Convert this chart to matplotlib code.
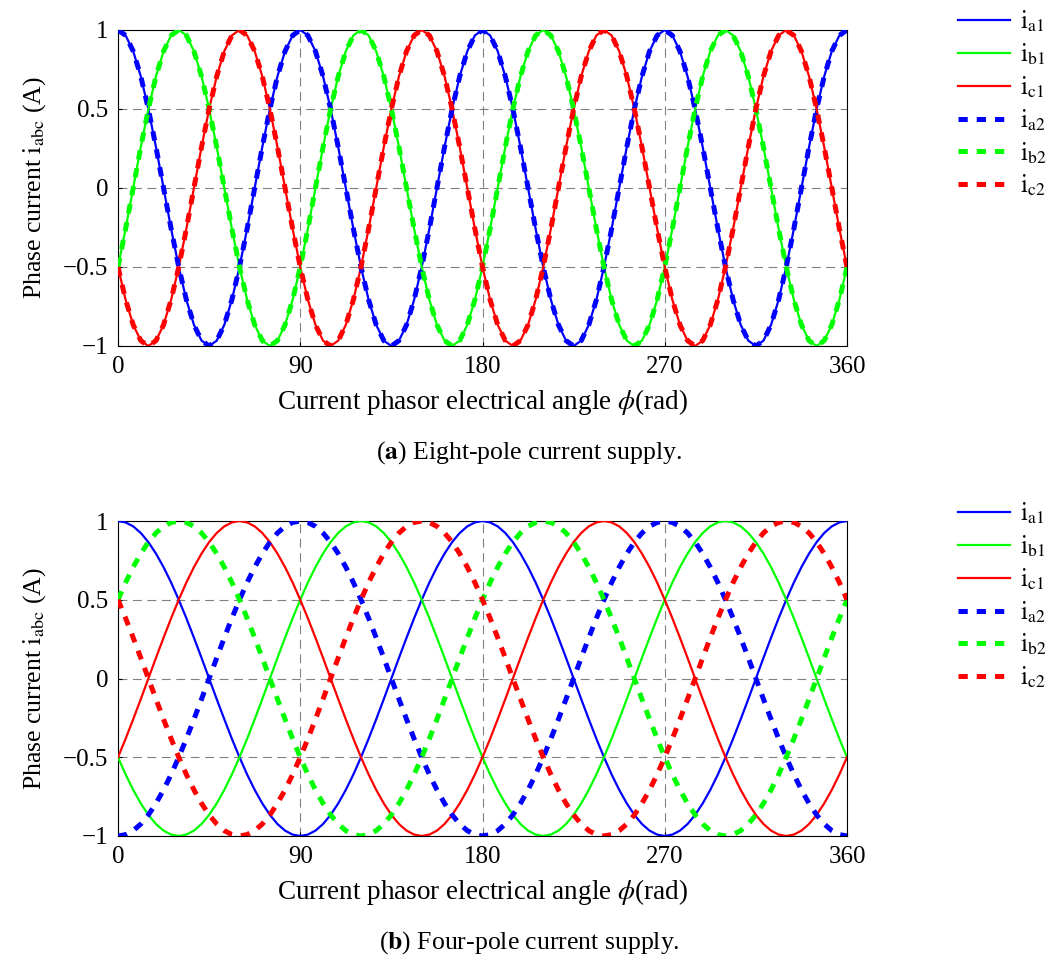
import numpy as np
import matplotlib
matplotlib.use("Agg")
import matplotlib.pyplot as plt

plt.rcParams["font.family"] = "serif"
plt.rcParams["font.serif"] = ["Liberation Serif", "DejaVu Serif"]
plt.rcParams["mathtext.fontset"] = "stix"


ANGLE_TICKS = [0, 90, 180, 270, 360]
CURRENT_TICKS = [-1, -0.5, 0, 0.5, 1]
CURRENT_TICK_LABELS = ["\u22121", "\u22120.5", "0", "0.5", "1"]

# sample angles (deg), one reading every 3.75 deg
angles_a = np.linspace(0, 360, 97)
angles_b = np.linspace(0, 360, 97)

# (a) eight-pole supply
ia1_a = [1, 0.966, 0.866, 0.707, 0.5, 0.259, 0, -0.259, -0.5, -0.707, -0.866, -0.966,
         -1, -0.966, -0.866, -0.707, -0.5, -0.259, 0, 0.259, 0.5, 0.707, 0.866, 0.966,
         1, 0.966, 0.866, 0.707, 0.5, 0.259, 0, -0.259, -0.5, -0.707, -0.866, -0.966,
         -1, -0.966, -0.866, -0.707, -0.5, -0.259, 0, 0.259, 0.5, 0.707, 0.866, 0.966,
         1, 0.966, 0.866, 0.707, 0.5, 0.259, 0, -0.259, -0.5, -0.707, -0.866, -0.966,
         -1, -0.966, -0.866, -0.707, -0.5, -0.259, 0, 0.259, 0.5, 0.707, 0.866, 0.966,
         1, 0.966, 0.866, 0.707, 0.5, 0.259, 0, -0.259, -0.5, -0.707, -0.866, -0.966,
         -1, -0.966, -0.866, -0.707, -0.5, -0.259, 0, 0.259, 0.5, 0.707, 0.866, 0.966,
         1]
ib1_a = [-0.5, -0.259, 0, 0.259, 0.5, 0.707, 0.866, 0.966, 1, 0.966, 0.866, 0.707,
         0.5, 0.259, 0, -0.259, -0.5, -0.707, -0.866, -0.966, -1, -0.966, -0.866, -0.707,
         -0.5, -0.259, 0, 0.259, 0.5, 0.707, 0.866, 0.966, 1, 0.966, 0.866, 0.707,
         0.5, 0.259, 0, -0.259, -0.5, -0.707, -0.866, -0.966, -1, -0.966, -0.866, -0.707,
         -0.5, -0.259, 0, 0.259, 0.5, 0.707, 0.866, 0.966, 1, 0.966, 0.866, 0.707,
         0.5, 0.259, 0, -0.259, -0.5, -0.707, -0.866, -0.966, -1, -0.966, -0.866, -0.707,
         -0.5, -0.259, 0, 0.259, 0.5, 0.707, 0.866, 0.966, 1, 0.966, 0.866, 0.707,
         0.5, 0.259, 0, -0.259, -0.5, -0.707, -0.866, -0.966, -1, -0.966, -0.866, -0.707,
         -0.5]
ic1_a = [-0.5, -0.707, -0.866, -0.966, -1, -0.966, -0.866, -0.707, -0.5, -0.259, 0, 0.259,
         0.5, 0.707, 0.866, 0.966, 1, 0.966, 0.866, 0.707, 0.5, 0.259, 0, -0.259,
         -0.5, -0.707, -0.866, -0.966, -1, -0.966, -0.866, -0.707, -0.5, -0.259, 0, 0.259,
         0.5, 0.707, 0.866, 0.966, 1, 0.966, 0.866, 0.707, 0.5, 0.259, 0, -0.259,
         -0.5, -0.707, -0.866, -0.966, -1, -0.966, -0.866, -0.707, -0.5, -0.259, 0, 0.259,
         0.5, 0.707, 0.866, 0.966, 1, 0.966, 0.866, 0.707, 0.5, 0.259, 0, -0.259,
         -0.5, -0.707, -0.866, -0.966, -1, -0.966, -0.866, -0.707, -0.5, -0.259, 0, 0.259,
         0.5, 0.707, 0.866, 0.966, 1, 0.966, 0.866, 0.707, 0.5, 0.259, 0, -0.259,
         -0.5]
# second winding set sits on top of the first one in (a)
ia2_a = ia1_a
ib2_a = ib1_a
ic2_a = ic1_a

# (b) four-pole supply
ia1_b = [1, 0.991, 0.966, 0.924, 0.866, 0.793, 0.707, 0.609, 0.5, 0.383, 0.259, 0.131,
         0, -0.131, -0.259, -0.383, -0.5, -0.609, -0.707, -0.793, -0.866, -0.924, -0.966, -0.991,
         -1, -0.991, -0.966, -0.924, -0.866, -0.793, -0.707, -0.609, -0.5, -0.383, -0.259, -0.131,
         0, 0.131, 0.259, 0.383, 0.5, 0.609, 0.707, 0.793, 0.866, 0.924, 0.966, 0.991,
         1, 0.991, 0.966, 0.924, 0.866, 0.793, 0.707, 0.609, 0.5, 0.383, 0.259, 0.131,
         0, -0.131, -0.259, -0.383, -0.5, -0.609, -0.707, -0.793, -0.866, -0.924, -0.966, -0.991,
         -1, -0.991, -0.966, -0.924, -0.866, -0.793, -0.707, -0.609, -0.5, -0.383, -0.259, -0.131,
         0, 0.131, 0.259, 0.383, 0.5, 0.609, 0.707, 0.793, 0.866, 0.924, 0.966, 0.991,
         1]
ib1_b = [-0.5, -0.609, -0.707, -0.793, -0.866, -0.924, -0.966, -0.991, -1, -0.991, -0.966, -0.924,
         -0.866, -0.793, -0.707, -0.609, -0.5, -0.383, -0.259, -0.131, 0, 0.131, 0.259, 0.383,
         0.5, 0.609, 0.707, 0.793, 0.866, 0.924, 0.966, 0.991, 1, 0.991, 0.966, 0.924,
         0.866, 0.793, 0.707, 0.609, 0.5, 0.383, 0.259, 0.131, 0, -0.131, -0.259, -0.383,
         -0.5, -0.609, -0.707, -0.793, -0.866, -0.924, -0.966, -0.991, -1, -0.991, -0.966, -0.924,
         -0.866, -0.793, -0.707, -0.609, -0.5, -0.383, -0.259, -0.131, 0, 0.131, 0.259, 0.383,
         0.5, 0.609, 0.707, 0.793, 0.866, 0.924, 0.966, 0.991, 1, 0.991, 0.966, 0.924,
         0.866, 0.793, 0.707, 0.609, 0.5, 0.383, 0.259, 0.131, 0, -0.131, -0.259, -0.383,
         -0.5]
ic1_b = [-0.5, -0.383, -0.259, -0.131, 0, 0.131, 0.259, 0.383, 0.5, 0.609, 0.707, 0.793,
         0.866, 0.924, 0.966, 0.991, 1, 0.991, 0.966, 0.924, 0.866, 0.793, 0.707, 0.609,
         0.5, 0.383, 0.259, 0.131, 0, -0.131, -0.259, -0.383, -0.5, -0.609, -0.707, -0.793,
         -0.866, -0.924, -0.966, -0.991, -1, -0.991, -0.966, -0.924, -0.866, -0.793, -0.707, -0.609,
         -0.5, -0.383, -0.259, -0.131, 0, 0.131, 0.259, 0.383, 0.5, 0.609, 0.707, 0.793,
         0.866, 0.924, 0.966, 0.991, 1, 0.991, 0.966, 0.924, 0.866, 0.793, 0.707, 0.609,
         0.5, 0.383, 0.259, 0.131, 0, -0.131, -0.259, -0.383, -0.5, -0.609, -0.707, -0.793,
         -0.866, -0.924, -0.966, -0.991, -1, -0.991, -0.966, -0.924, -0.866, -0.793, -0.707, -0.609,
         -0.5]
ia2_b = [-1, -0.991, -0.966, -0.924, -0.866, -0.793, -0.707, -0.609, -0.5, -0.383, -0.259, -0.131,
         0, 0.131, 0.259, 0.383, 0.5, 0.609, 0.707, 0.793, 0.866, 0.924, 0.966, 0.991,
         1, 0.991, 0.966, 0.924, 0.866, 0.793, 0.707, 0.609, 0.5, 0.383, 0.259, 0.131,
         0, -0.131, -0.259, -0.383, -0.5, -0.609, -0.707, -0.793, -0.866, -0.924, -0.966, -0.991,
         -1, -0.991, -0.966, -0.924, -0.866, -0.793, -0.707, -0.609, -0.5, -0.383, -0.259, -0.131,
         0, 0.131, 0.259, 0.383, 0.5, 0.609, 0.707, 0.793, 0.866, 0.924, 0.966, 0.991,
         1, 0.991, 0.966, 0.924, 0.866, 0.793, 0.707, 0.609, 0.5, 0.383, 0.259, 0.131,
         0, -0.131, -0.259, -0.383, -0.5, -0.609, -0.707, -0.793, -0.866, -0.924, -0.966, -0.991,
         -1]
ib2_b = [0.5, 0.609, 0.707, 0.793, 0.866, 0.924, 0.966, 0.991, 1, 0.991, 0.966, 0.924,
         0.866, 0.793, 0.707, 0.609, 0.5, 0.383, 0.259, 0.131, 0, -0.131, -0.259, -0.383,
         -0.5, -0.609, -0.707, -0.793, -0.866, -0.924, -0.966, -0.991, -1, -0.991, -0.966, -0.924,
         -0.866, -0.793, -0.707, -0.609, -0.5, -0.383, -0.259, -0.131, 0, 0.131, 0.259, 0.383,
         0.5, 0.609, 0.707, 0.793, 0.866, 0.924, 0.966, 0.991, 1, 0.991, 0.966, 0.924,
         0.866, 0.793, 0.707, 0.609, 0.5, 0.383, 0.259, 0.131, 0, -0.131, -0.259, -0.383,
         -0.5, -0.609, -0.707, -0.793, -0.866, -0.924, -0.966, -0.991, -1, -0.991, -0.966, -0.924,
         -0.866, -0.793, -0.707, -0.609, -0.5, -0.383, -0.259, -0.131, 0, 0.131, 0.259, 0.383,
         0.5]
ic2_b = [0.5, 0.383, 0.259, 0.131, 0, -0.131, -0.259, -0.383, -0.5, -0.609, -0.707, -0.793,
         -0.866, -0.924, -0.966, -0.991, -1, -0.991, -0.966, -0.924, -0.866, -0.793, -0.707, -0.609,
         -0.5, -0.383, -0.259, -0.131, 0, 0.131, 0.259, 0.383, 0.5, 0.609, 0.707, 0.793,
         0.866, 0.924, 0.966, 0.991, 1, 0.991, 0.966, 0.924, 0.866, 0.793, 0.707, 0.609,
         0.5, 0.383, 0.259, 0.131, 0, -0.131, -0.259, -0.383, -0.5, -0.609, -0.707, -0.793,
         -0.866, -0.924, -0.966, -0.991, -1, -0.991, -0.966, -0.924, -0.866, -0.793, -0.707, -0.609,
         -0.5, -0.383, -0.259, -0.131, 0, 0.131, 0.259, 0.383, 0.5, 0.609, 0.707, 0.793,
         0.866, 0.924, 0.966, 0.991, 1, 0.991, 0.966, 0.924, 0.866, 0.793, 0.707, 0.609,
         0.5]

LABELS = [r"$\mathrm{i}_{\mathrm{a1}}$", r"$\mathrm{i}_{\mathrm{b1}}$", r"$\mathrm{i}_{\mathrm{c1}}$",
          r"$\mathrm{i}_{\mathrm{a2}}$", r"$\mathrm{i}_{\mathrm{b2}}$", r"$\mathrm{i}_{\mathrm{c2}}$"]
COLORS = ["#0000ff", "#00ff00", "#ff0000", "#0000ff", "#00ff00", "#ff0000"]


def draw_panel(fig, rect, angles, series, caption, legend_top):
    ax = fig.add_axes(rect)

    for i, values in enumerate(series):
        if i < 3:
            ax.plot(angles, values, color=COLORS[i], linewidth=1.6,
                    label=LABELS[i], zorder=3)
        else:
            ax.plot(angles, values, color=COLORS[i], linewidth=3.6,
                    linestyle=(0, (1.85, 1.8)), dash_capstyle="butt",
                    label=LABELS[i], zorder=4)

    ax.set_xlim(0, 360)
    ax.set_ylim(-1, 1)
    ax.set_xticks(ANGLE_TICKS)
    ax.set_yticks(CURRENT_TICKS)
    ax.set_yticklabels(CURRENT_TICK_LABELS)
    ax.tick_params(direction="in", length=3, labelsize=18, pad=7)
    ax.grid(True, color="#808080", linewidth=0.8, linestyle=(0, (8, 5)))

    ax.set_xlabel(r"Current phasor electrical angle $\phi$(rad)", fontsize=19.5, labelpad=7)
    ax.set_ylabel(r"Phase current $\mathrm{i}_{\mathrm{abc}}$ (A)", fontsize=18.5, labelpad=11)

    ax.legend(loc="upper left", bbox_to_anchor=(958 / 1059, legend_top),
              bbox_transform=fig.transFigure, frameon=False, fontsize=18,
              borderpad=0, borderaxespad=0, handlelength=2.1,
              handletextpad=0.4, labelspacing=0.3)

    fig.text(0.5, rect[1] - 0.112, caption,
             ha="center", va="center", fontsize=18.5)
    return ax


fig = plt.figure(figsize=(10.59, 9.56), dpi=100)

draw_panel(fig, [118 / 1059, 1 - 346 / 956, 729 / 1059, 316 / 956], angles_a,
           [ia1_a, ib1_a, ic1_a, ia2_a, ib2_a, ic2_a],
           r"($\mathbf{a}$) Eight-pole current supply.", 1 - 9 / 956)

draw_panel(fig, [118 / 1059, 1 - 836 / 956, 729 / 1059, 315 / 956], angles_b,
           [ia1_b, ib1_b, ic1_b, ia2_b, ib2_b, ic2_b],
           r"($\mathbf{b}$) Four-pole current supply.", 1 - 501 / 956)

fig.savefig("out.png", dpi=100)
